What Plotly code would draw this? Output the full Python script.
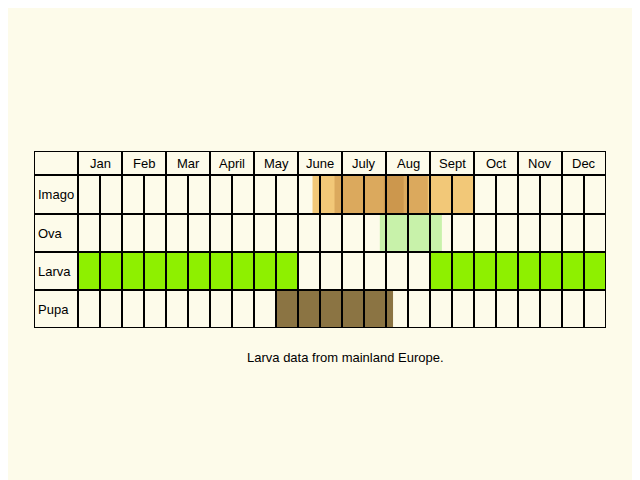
import plotly.graph_objects as go

months = ['Jan', 'Feb', 'Mar', 'April', 'May', 'June', 'July', 'Aug', 'Sept', 'Oct', 'Nov', 'Dec']
stages = ['Imago', 'Ova', 'Larva', 'Pupa']

# occupied periods, in months from start of Jan: (stage, start, end, colour)
periods = [
    ('Imago', 5.33, 9.0, 'rgba(242,200,120,1)'),
    ('Imago', 5.83, 7.95, 'rgba(190,130,60,0.45)'),
    ('Imago', 6.95, 7.4, 'rgba(170,110,40,0.3)'),
    ('Ova', 6.86, 8.27, 'rgba(200,242,170,1)'),
    ('Larva', 0, 5, '#8ef000'),
    ('Larva', 8, 12, '#8ef000'),
    ('Pupa', 4.5, 7.16, '#8b7443'),
]
caption = 'Larva data from mainland Europe.'

# row edges (top, bottom) in pixel-like units, header first
rows = {'header': (0, 24), 'Imago': (24, 63), 'Ova': (63, 101), 'Larva': (101, 139), 'Pupa': (139, 177)}

bg = '#fdfbea'
fig = go.Figure()
fig.add_trace(go.Scatter(x=[-1, 12], y=[0, 177], mode='markers', marker=dict(opacity=0), hoverinfo='skip'))

shapes = []
for st, a, b, col in periods:
    y0, y1 = rows[st]
    shapes.append(dict(type='rect', xref='x', yref='y', x0=a, x1=b, y0=y0, y1=y1,
                       fillcolor=col, line=dict(width=0), layer='below'))

ln = dict(color='black', width=2)
# horizontal lines
for k, (y0, y1) in rows.items():
    shapes.append(dict(type='line', xref='x', yref='y', x0=-1, x1=12, y0=y0, y1=y0, line=ln))
shapes.append(dict(type='line', xref='x', yref='y', x0=-1, x1=12, y0=177, y1=177, line=ln))
# vertical lines
shapes.append(dict(type='line', xref='x', yref='y', x0=-1, x1=-1, y0=0, y1=177, line=ln))
for m in range(13):
    shapes.append(dict(type='line', xref='x', yref='y', x0=m, x1=m, y0=0, y1=177, line=ln))
for m in range(12):
    shapes.append(dict(type='line', xref='x', yref='y', x0=m + 0.5, x1=m + 0.5, y0=24, y1=177, line=ln))

ann = []
for i, mo in enumerate(months):
    ann.append(dict(x=i + 0.5, y=12, text=mo, showarrow=False, xref='x', yref='y'))
for st in stages:
    y0, y1 = rows[st]
    ann.append(dict(x=-0.95, y=(y0 + y1) / 2, text=st, showarrow=False, xref='x', yref='y', xanchor='left'))
# caption placed in paper coords relative to the table
ann.append(dict(x=(345 - 34) / (606 - 34), y=(328 - 367) / (328 - 151), text=caption,
                showarrow=False, xref='paper', yref='paper'))

fig.update_layout(
    width=640, height=480, margin=dict(l=26, r=42, t=143, b=160),
    paper_bgcolor=bg, plot_bgcolor=bg, showlegend=False,
    font=dict(family='Liberation Sans, Arial', size=13, color='black'),
    xaxis=dict(range=[-1, 12], visible=False, fixedrange=True),
    yaxis=dict(range=[177, 0], visible=False, fixedrange=True),
    shapes=shapes, annotations=ann,
)
fig.write_html('out.html')
